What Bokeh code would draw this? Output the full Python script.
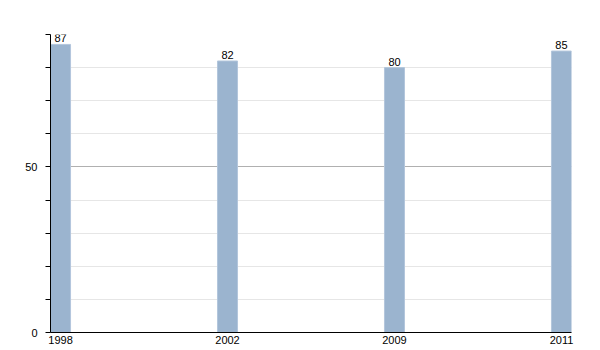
from bokeh.plotting import figure
from bokeh.models import ColumnDataSource, FixedTicker, Range1d
from bokeh.embed import file_html
from bokeh.resources import INLINE
from bokeh.core.properties import value

years = ["1998", "2002", "2009", "2011"]
values = [87, 82, 80, 85]

xs = list(range(len(years)))
labels = [str(v) for v in values]
src = ColumnDataSource(dict(x=xs, top=values, label=labels))

bw = 0.12
p = figure(width=600, height=350, output_backend="svg", toolbar_location=None,
           x_range=Range1d(-bw / 2, len(years) - 1 + bw / 2), y_range=Range1d(0, 90),
           min_border_left=50, min_border_right=29, min_border_top=34, min_border_bottom=18)
p.outline_line_color = None
p.background_fill_color = "white"
p.border_fill_color = "white"

p.vbar(x="x", top="top", width=bw, bottom=0, source=src,
       fill_color="#9bb4cf", line_color="#b3c6dc", line_width=1)
p.text(x="x", y="top", text="label", source=src, text_align="center",
       text_baseline="bottom", y_offset=-2, text_font=value("Liberation Sans"),
       text_font_size="11px", text_color="black")

font = "Liberation Sans"
# x axis
p.xaxis.ticker = FixedTicker(ticks=xs)
p.xaxis.major_label_overrides = {i: y for i, y in enumerate(years)}
p.xaxis.major_tick_line_color = None
p.xaxis.minor_tick_line_color = None
p.xaxis.major_tick_out = 0
p.xaxis.major_tick_in = 0
p.xaxis.minor_tick_out = 0
p.xaxis.axis_line_color = "black"
p.xaxis.axis_line_width = 1
p.xaxis.major_label_standoff = 3
p.xaxis.major_label_text_font = font
p.xaxis.major_label_text_font_size = "11px"
p.xaxis.major_label_text_color = "black"
p.xgrid.grid_line_color = None

# y axis
p.yaxis.ticker = FixedTicker(ticks=[0, 50], minor_ticks=[10, 20, 30, 40, 60, 70, 80, 90])
p.yaxis.axis_line_color = "black"
p.yaxis.major_tick_line_color = "black"
p.yaxis.minor_tick_line_color = "black"
p.yaxis.major_tick_in = 0
p.yaxis.major_tick_out = 5
p.yaxis.minor_tick_in = 0
p.yaxis.minor_tick_out = 5
p.yaxis.major_label_standoff = 8
p.yaxis.major_label_text_font = font
p.yaxis.major_label_text_font_size = "11px"
p.yaxis.major_label_text_color = "black"
p.ygrid.grid_line_color = "#b0b0b0"
p.ygrid.minor_grid_line_color = "#e6e6e6"
p.ygrid.level = "underlay"

open("out.html", "w").write(file_html(p, INLINE))
